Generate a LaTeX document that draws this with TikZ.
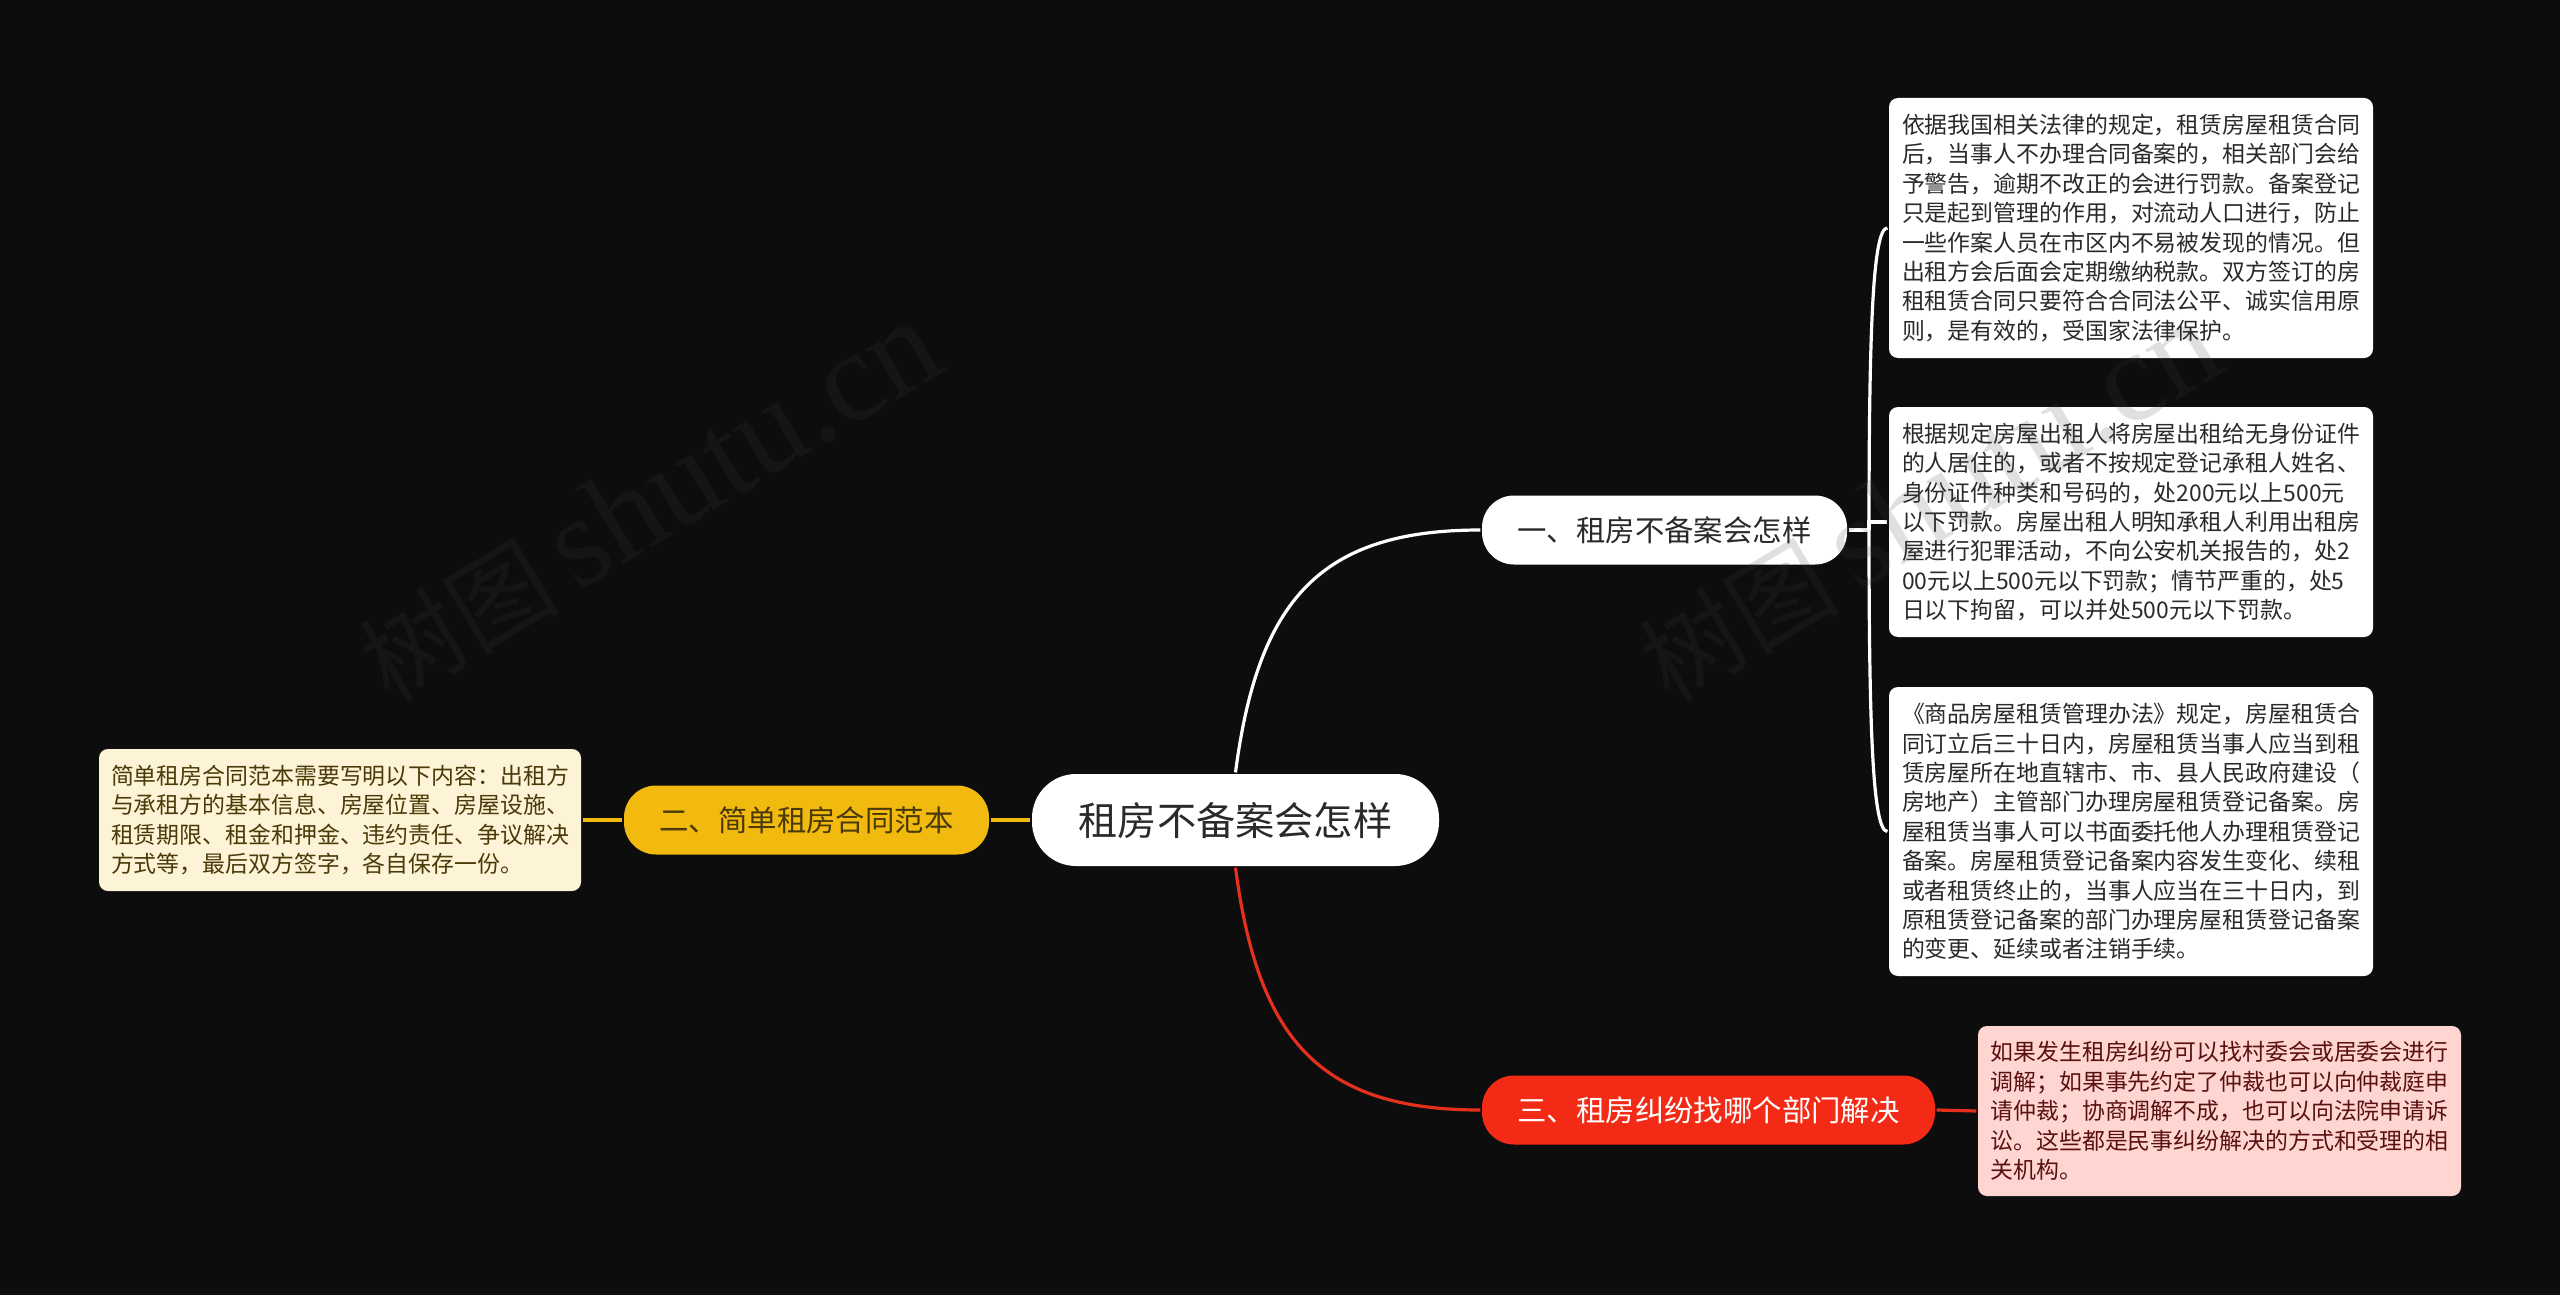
\documentclass[tikz,border=0pt]{standalone}
\usepackage{fontspec}
\setmainfont{Noto Sans CJK SC}
\newfontfamily\markfont{Liberation Serif}
\definecolor{bg_black}{HTML}{0D0D0D}
\definecolor{mark_gray}{HTML}{404040}
\definecolor{text_dark}{HTML}{2A2A2A}
\definecolor{pill_yellow}{HTML}{F2B90F}
\definecolor{pill_red}{HTML}{F22A16}
\definecolor{line_red}{HTML}{E5301E}
\definecolor{box_cream}{HTML}{FDF3D6}
\definecolor{box_pink}{HTML}{FFD5D1}
\definecolor{text_brown}{HTML}{4A3A08}
\definecolor{text_wine}{HTML}{5A1010}
\newcommand{\marktext}{{\fontsize{100}{104}\selectfont 树图}\hspace{18pt}{\markfont shutu.cn}}
\tikzset{ p/.style = { rectangle % pill
        , inner sep = 0pt
        , minimum width = 365pt
        , minimum height = 69pt
        , rounded corners = 32pt
        , font = \fontsize{29.4}{34}\selectfont
        }
        , b/.style = { rectangle % text box
        , inner sep = 0pt
        , align = left
        , minimum width = 484pt
        , rounded corners = 9pt
        , font = \fontsize{22.9}{29.4}\selectfont
        }
        }

\begin{document}
\begin{tikzpicture}[x=1pt, y=1pt, line width=3.2pt,
        main_style/.style={p,fill=white,text=text_dark,minimum width=407pt,minimum height=92pt,rounded corners=44pt,font=\fontsize{39.2}{44}\selectfont},
        white_pill_style/.style={p,fill=white,text=text_dark},
        yellow_pill_style/.style={p,fill=pill_yellow,text=text_brown},
        red_pill_style/.style={p,fill=pill_red,text=white,minimum width=453pt},
        white_box_style/.style={b,fill=white,text=text_dark},
        yellow_box_style/.style={b,fill=box_cream,text=text_brown,minimum width=482pt},
        red_box_style/.style={b,fill=box_pink,text=text_wine,minimum width=483pt},
        mark_style/.style={anchor=base,rotate=31,text=mark_gray,opacity=.16,font=\fontsize{129}{134}\selectfont},
        white_edge/.style={draw=white},
        yellow_edge/.style={draw=pill_yellow},
        red_edge/.style={draw=line_red}]
        \fill [bg_black] (0,0) rectangle (2560,-1295);
        \useasboundingbox (0,0) rectangle (2560,-1295);

        \node [main_style](n0) at (1235.5,-820) {租房不备案会怎样};
        \node [white_pill_style](n1) at (1664.5,-530) {一、租房不备案会怎样};
        \node [yellow_pill_style](n2) at (806.5,-820) {二、简单租房合同范本};
        \node [red_pill_style](n3) at (1708.5,-1110) {三、租房纠纷找哪个部门解决};

        \node [white_box_style,minimum height=260pt](n1a) at (2131,-228) {依据我国相关法律的规定，租赁房屋租赁合同\\后，当事人不办理合同备案的，相关部门会给\\予警告，逾期不改正的会进行罚款。备案登记\\只是起到管理的作用，对流动人口进行，防止\\一些作案人员在市区内不易被发现的情况。但\\出租方会后面会定期缴纳税款。双方签订的房\\租租赁合同只要符合合同法公平、诚实信用原\\则，是有效的，受国家法律保护。};
        \node [white_box_style,minimum height=230pt](n1b) at (2131,-522) {根据规定房屋出租人将房屋出租给无身份证件\\的人居住的，或者不按规定登记承租人姓名、\\身份证件种类和号码的，处200元以上500元\\以下罚款。房屋出租人明知承租人利用出租房\\屋进行犯罪活动，不向公安机关报告的，处2\\00元以上500元以下罚款；情节严重的，处5\\日以下拘留，可以并处500元以下罚款。};
        \node [white_box_style,minimum height=289pt](n1c) at (2131,-831.5) {《商品房屋租赁管理办法》规定，房屋租赁合\\同订立后三十日内，房屋租赁当事人应当到租\\赁房屋所在地直辖市、市、县人民政府建设（\\房地产）主管部门办理房屋租赁登记备案。房\\屋租赁当事人可以书面委托他人办理租赁登记\\备案。房屋租赁登记备案内容发生变化、续租\\或者租赁终止的，当事人应当在三十日内，到\\原租赁登记备案的部门办理房屋租赁登记备案\\的变更、延续或者注销手续。};
        \node [yellow_box_style,minimum height=142pt](n2a) at (340,-820) {简单租房合同范本需要写明以下内容：出租方\\与承租方的基本信息、房屋位置、房屋设施、\\租赁期限、租金和押金、违约责任、争议解决\\方式等，最后双方签字，各自保存一份。};
        \node [red_box_style,minimum height=170pt](n3a) at (2219.5,-1111) {如果发生租房纠纷可以找村委会或居委会进行\\调解；如果事先约定了仲裁也可以向仲裁庭申\\请仲裁；协商调解不成，也可以向法院申请诉\\讼。这些都是民事纠纷解决的方式和受理的相\\关机构。};

        \coordinate (crtl1) at (1258,-600);
        \coordinate (crtl2) at (1320,-530);
        \coordinate (crtl3) at (1258,-1040);
        \coordinate (crtl4) at (1320,-1110);
        \coordinate (spine) at (1869,-530);
        \coordinate (crtl5) at (1869,-325);
        \coordinate (crtl6) at (1873,-228);
        \coordinate (crtl7) at (1869,-735);
        \coordinate (crtl8) at (1873,-831);

        \draw [white_edge] (n0.north) .. controls (crtl1) and (crtl2) .. (n1.west);
        \draw [red_edge] (n0.south) .. controls (crtl3) and (crtl4) .. (n3.west);
        \draw [yellow_edge] (n0.west) -- (n2.east);
        \draw [yellow_edge] (n2.west) -- (n2a.east);
        \draw [red_edge] (n3.east) -- (n3a.west);
        \draw [white_edge] (n1.east) -- (spine);
        \draw [white_edge] (spine) .. controls (crtl5) and (crtl6) .. (n1a.west);
        \draw [white_edge] (spine) |- (n1b.west);
        \draw [white_edge] (spine) .. controls (crtl7) and (crtl8) .. (n1c.west);

        \node [mark_style](m1) at (670,-537) {\marktext};
        \node [mark_style](m2) at (1950,-537) {\marktext};
\end{tikzpicture}
\end{document}
